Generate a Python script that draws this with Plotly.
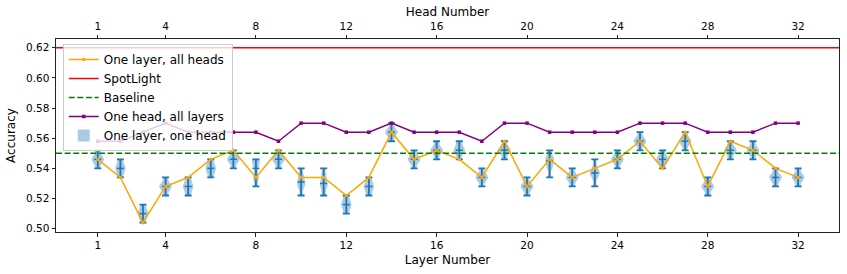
import numpy as np
import plotly.graph_objects as go

# ---------------- data ----------------
layers = list(range(1, 33))
heads = list(range(1, 33))

one_layer_all_heads = [0.546, 0.534, 0.504, 0.528, 0.534, 0.546, 0.552, 0.534,
                       0.552, 0.534, 0.534, 0.522, 0.534, 0.564, 0.546, 0.552,
                       0.546, 0.534, 0.558, 0.528, 0.546, 0.534, 0.540, 0.546,
                       0.558, 0.540, 0.564, 0.528, 0.558, 0.552, 0.540, 0.534]

one_head_all_layers = [0.558, 0.558, 0.564, 0.570, 0.564, 0.564, 0.564, 0.564,
                       0.558, 0.570, 0.570, 0.564, 0.564, 0.570, 0.564, 0.564,
                       0.564, 0.558, 0.570, 0.570, 0.564, 0.564, 0.564, 0.564,
                       0.570, 0.570, 0.570, 0.564, 0.564, 0.564, 0.570, 0.570]

# accuracies of single heads within each layer (estimated)
one_layer_one_head = [
    [0.540, 0.543, 0.546, 0.546, 0.546, 0.549, 0.552],
    [0.534, 0.537, 0.540, 0.540, 0.543, 0.546],
    [0.504, 0.507, 0.510, 0.510, 0.513, 0.516],
    [0.522, 0.526, 0.528, 0.528, 0.530, 0.534],
    [0.522, 0.525, 0.528, 0.528, 0.531, 0.534],
    [0.534, 0.537, 0.540, 0.540, 0.543, 0.546],
    [0.540, 0.544, 0.546, 0.546, 0.548, 0.552],
    [0.528, 0.532, 0.534, 0.536, 0.540, 0.542, 0.544, 0.546, 0.546],
    [0.540, 0.544, 0.546, 0.546, 0.548, 0.552],
    [0.522, 0.527, 0.529, 0.531, 0.533, 0.536, 0.540],
    [0.522, 0.526, 0.529, 0.530, 0.533, 0.536, 0.540],
    [0.510, 0.513, 0.516, 0.516, 0.519, 0.522],
    [0.522, 0.525, 0.528, 0.528, 0.531, 0.534],
    [0.558, 0.562, 0.564, 0.564, 0.566, 0.570],
    [0.540, 0.544, 0.546, 0.546, 0.548, 0.552],
    [0.546, 0.550, 0.552, 0.552, 0.554, 0.558],
    [0.546, 0.550, 0.552, 0.552, 0.555, 0.558],
    [0.528, 0.532, 0.534, 0.534, 0.536, 0.540],
    [0.546, 0.550, 0.552, 0.552, 0.554, 0.558],
    [0.522, 0.526, 0.528, 0.528, 0.530, 0.534],
    [0.534, 0.540, 0.542, 0.545, 0.546, 0.548, 0.552],
    [0.528, 0.532, 0.534, 0.534, 0.536, 0.540],
    [0.528, 0.533, 0.536, 0.537, 0.538, 0.541, 0.546],
    [0.540, 0.544, 0.546, 0.546, 0.548, 0.552],
    [0.552, 0.556, 0.558, 0.558, 0.560, 0.564],
    [0.540, 0.544, 0.546, 0.546, 0.548, 0.552],
    [0.552, 0.556, 0.558, 0.558, 0.560, 0.564],
    [0.522, 0.526, 0.528, 0.528, 0.530, 0.534],
    [0.546, 0.550, 0.552, 0.552, 0.554, 0.558],
    [0.546, 0.550, 0.552, 0.552, 0.554, 0.558],
    [0.528, 0.532, 0.534, 0.534, 0.536, 0.540],
    [0.528, 0.532, 0.534, 0.534, 0.536, 0.540],
]

spotlight = 0.62
baseline = 0.55

x_ticks = [1, 4, 8, 12, 16, 20, 24, 28, 32]
y_ticks = [0.50, 0.52, 0.54, 0.56, 0.58, 0.60, 0.62]

# ---------------- figure ----------------
x_range = [-0.85, 33.81]
y_range = [0.4978, 0.6258]

C0 = "#1f77b4"
FONT = "DejaVu Sans"

vx = [l for l, s in zip(layers, one_layer_one_head) for _ in s]
vy = [v for s in one_layer_one_head for v in s]
meds = [float(np.median(s)) for s in one_layer_one_head]
mins = [min(s) for s in one_layer_one_head]
maxs = [max(s) for s in one_layer_one_head]

fig = go.Figure()

fig.add_trace(go.Violin(
    x=vx, y=vy, name="One layer, one head", width=0.55, spanmode="hard",
    points=False, bandwidth=0.002, scalemode="width",
    fillcolor="rgba(31,119,180,0.38)", line=dict(width=0, color="rgba(31,119,180,0.38)"),
    box_visible=False, meanline_visible=False, hoverinfo="skip", legendrank=5,
))

fig.add_trace(go.Scatter(
    x=layers, y=meds, mode="markers", showlegend=False, hoverinfo="skip",
    marker=dict(symbol="line-ew", size=5, color=C0, line=dict(width=1.5, color=C0)),
    error_y=dict(type="data", symmetric=False,
                 array=[a - m for a, m in zip(maxs, meds)],
                 arrayminus=[m - b for m, b in zip(meds, mins)],
                 color=C0, thickness=1.8, width=3.5),
))

fig.add_trace(go.Scatter(
    x=layers, y=one_layer_all_heads, mode="lines+markers", name="One layer, all heads",
    line=dict(color="#FFA500", width=1.5), marker=dict(size=3.5, color="#FFA500"),
    legendrank=1,
))

fig.add_trace(go.Scatter(
    x=x_range, y=[spotlight, spotlight], mode="lines", name="SpotLight",
    line=dict(color="#FF0000", width=1.5), legendrank=2,
))

fig.add_trace(go.Scatter(
    x=x_range, y=[baseline, baseline], mode="lines", name="Baseline",
    line=dict(color="#008000", width=1.5, dash="6px,2.6px"), legendrank=3,
))

fig.add_trace(go.Scatter(
    x=heads, y=one_head_all_layers, mode="lines+markers", name="One head, all layers",
    line=dict(color="#800080", width=1.5),
    marker=dict(size=3.5, symbol="square", color="#800080"),
    xaxis="x2", legendrank=4,
))

axis_common = dict(
    showgrid=False, zeroline=False, showline=True, linecolor="#222", linewidth=1,
    ticks="outside", ticklen=3.5, tickcolor="#222", tickwidth=1, automargin=False,
    tickfont=dict(family=FONT, size=10.5, color="black"),
)

fig.update_layout(
    width=847, height=274,
    margin=dict(l=56, r=8, t=39, b=42, pad=0, autoexpand=False),
    paper_bgcolor="white", plot_bgcolor="white",
    font=dict(family=FONT, color="black"),
    showlegend=True,
    violinmode="overlay",
    xaxis=dict(range=x_range, tickvals=x_ticks, ticktext=[str(t) for t in x_ticks],
               title=dict(text="Layer Number", font=dict(family=FONT, size=12), standoff=5),
               **axis_common),
    xaxis2=dict(range=x_range, tickvals=x_ticks, ticktext=[str(t) for t in x_ticks],
                overlaying="x", side="top", anchor="y",
                title=dict(text="Head Number", font=dict(family=FONT, size=12), standoff=1),
                **axis_common),
    yaxis=dict(range=y_range, tickvals=y_ticks, tickformat=".2f", mirror=True,
               title=dict(text="Accuracy", font=dict(family=FONT, size=12), standoff=7),
               **axis_common),
    legend=dict(x=0.0086, y=0.974, xanchor="left", yanchor="top",
                bgcolor="rgba(255,255,255,0.8)", bordercolor="#cccccc", borderwidth=1,
                font=dict(family=FONT, size=12), tracegroupgap=0, itemwidth=30),
)

fig.write_html("out.html", config={"displayModeBar": False},
               post_script="document.body.style.margin='0';")
